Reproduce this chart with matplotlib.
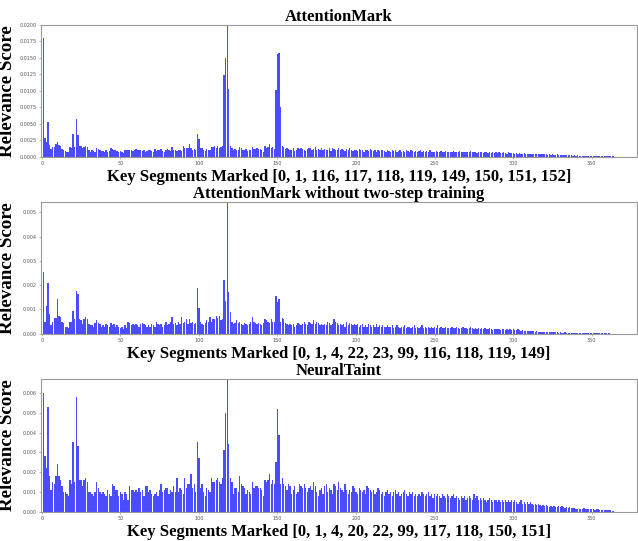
import numpy as np
import matplotlib
matplotlib.use("Agg")
import matplotlib.pyplot as plt

# ---------------------------------------------------------------
# Relevance scores per segment (units of 1e-4)
# ---------------------------------------------------------------
attention_mark = np.array([
    127, 180, 28, 22, 53, 18, 12, 15, 15, 19,
    23, 18, 16, 12, 10, 9, 8, 7, 15, 14,
    35, 15, 58, 33, 17, 16, 13, 15, 17, 15,
    10, 8, 10, 9, 7, 14, 12, 10, 9, 9,
    8, 10, 8, 9, 13, 12, 10, 10, 9, 7,
    9, 8, 6, 11, 10, 11, 10, 11, 9, 10,
    12, 11, 10, 11, 9, 10, 8, 9, 10, 11,
    9, 8, 12, 9, 10, 11, 12, 9, 8, 10,
    12, 10, 9, 15, 11, 10, 9, 11, 10, 9,
    16, 13, 14, 14, 19, 13, 10, 12, 11, 35,
    27, 13, 14, 11, 9, 12, 11, 10, 15, 15,
    16, 14, 17, 14, 15, 17, 124, 150, 200, 103,
    16, 13, 10, 12, 11, 10, 15, 13, 11, 10,
    12, 9, 11, 10, 15, 12, 12, 13, 12, 12,
    11, 8, 16, 14, 15, 19, 14, 15, 12, 102,
    156, 158, 75, 17, 15, 12, 14, 12, 10, 11,
    13, 9, 11, 13, 12, 13, 12, 11, 9, 12,
    14, 13, 10, 12, 15, 11, 12, 10, 13, 11,
    12, 10, 11, 13, 9, 14, 12, 10, 11, 13,
    10, 12, 11, 9, 12, 10, 13, 11, 9, 10,
    11, 9, 12, 10, 10, 8, 11, 10, 9, 12,
    10, 9, 11, 8, 10, 9, 10, 11, 9, 8,
    10, 9, 8, 10, 9, 11, 8, 9, 10, 8,
    9, 8, 10, 9, 8, 11, 9, 8, 9, 7,
    9, 10, 8, 9, 7, 9, 8, 10, 8, 7,
    8, 9, 7, 8, 9, 8, 7, 9, 8, 7,
    8, 7, 9, 8, 7, 8, 9, 7, 8, 7,
    7, 8, 7, 9, 7, 8, 7, 6, 8, 7,
    7, 6, 8, 7, 6, 7, 6, 7, 6, 7,
    6, 7, 6, 6, 7, 6, 5, 7, 6, 6,
    6, 5, 6, 5, 6, 5, 5, 6, 5, 5,
    5, 4, 5, 4, 5, 4, 4, 5, 4, 4,
    4, 4, 3, 4, 3, 4, 3, 3, 4, 3,
    3, 3, 3, 2.5, 3, 2.5, 3, 2.5, 2, 2.5,
    2, 2.5, 2, 2, 2, 1.8, 2, 1.6, 1.8, 1.5,
    1.5, 1.6, 1.4, 1.5, 1.3, 1.4, 1.2, 1.3, 1.1, 1.2,
    1.1, 1, 1, 0.9, 0.8,
]) * 1e-4

no_two_step = np.array([
    32, 25.5, 5, 11.5, 21, 8, 3.5, 5, 6.5, 6.5,
    14.5, 7.5, 7, 5, 4.5, 3, 3, 2.5, 5, 5,
    9.5, 6, 17.5, 16.5, 6, 5.5, 4, 6, 7, 6,
    4, 3.5, 3.5, 3, 4.5, 5.5, 4.5, 4, 3, 3.5,
    3, 4, 3.5, 3, 4.5, 3.5, 4, 3, 3.5, 3,
    2.5, 3, 2, 3.5, 2.5, 5, 4.5, 3.5, 4, 3.5,
    4, 3.5, 3, 4, 4.5, 4, 3.5, 3, 3.5, 3,
    4, 3.5, 3, 5, 4, 3.5, 4, 3, 3.5, 5,
    3.5, 4, 5, 7, 4, 4.5, 3.5, 5, 4, 7,
    4.5, 5, 6, 4, 6, 4.5, 5, 4, 4.5, 19,
    10.5, 5, 4, 3.5, 4.5, 5.5, 5, 7, 5, 6,
    6, 7.5, 6.5, 7.5, 5.5, 6, 22, 13.5, 54.3, 17,
    9, 5, 4, 4.5, 5.5, 4.5, 5, 4, 3.5, 4.5,
    4, 3.5, 4, 5, 7, 5, 4.5, 4, 4.5, 4,
    3.5, 4.5, 6, 5.5, 5, 4.5, 6, 5, 5, 15.5,
    13, 14.5, 5, 6.5, 6, 4.5, 4, 3.5, 4, 3.5,
    4, 3, 3.5, 4.5, 4, 3.5, 4, 5, 4, 3.5,
    5, 4.5, 4, 5.5, 4, 5, 4.5, 3.5, 4, 3.5,
    4, 3.5, 5, 4.5, 3.5, 4, 6, 5, 4.5, 3.5,
    4, 3.5, 4, 3, 5, 3.5, 4.5, 4, 3.5, 4,
    3.5, 4, 3, 3.5, 4, 3, 3.5, 3, 4, 3.5,
    3, 3.5, 3, 4, 3, 3.5, 3, 3.5, 3, 3,
    3.5, 3, 3, 3.5, 2.5, 3, 3.5, 3, 2.5, 3,
    3, 3.5, 2.5, 3, 3, 2.5, 3, 3.5, 2.5, 3,
    2.5, 3, 3.5, 2.5, 3, 2.5, 3, 2.5, 3, 2.5,
    3, 2.5, 3.5, 2.5, 3, 2.5, 2.5, 3, 2.5, 2.5,
    2.5, 3, 2.5, 2.5, 3, 2.5, 2, 2.5, 3, 2.5,
    2.5, 2, 2.5, 3, 2.5, 2, 2.5, 2, 2.5, 2,
    2.5, 2, 2.5, 2, 2, 2.5, 2, 1.5, 2, 2,
    2, 2, 1.5, 2, 2, 1.5, 2, 1.5, 2, 1.5,
    2, 1.5, 1.5, 2, 1.5, 1.2, 1.5, 1.2, 1.3, 1.2,
    1.2, 1, 1.1, 1, 0.9, 1, 0.8, 0.9, 0.8, 0.8,
    0.8, 0.7, 0.8, 0.7, 0.6, 0.7, 0.6, 0.6, 0.6, 0.5,
    0.6, 0.5, 0.5, 0.6, 0.5, 0.4, 0.5, 0.4, 0.4, 0.4,
    0.4, 0.3, 0.4, 0.3, 0.3, 0.3, 0.3, 0.25, 0.3, 0.25,
    0.2, 0.25, 0.2, 0.2, 0.2, 0.15, 0.2, 0.15, 0.15, 0.15,
    0.1, 0.15, 0.1, 0.1, 0.1,
]) * 1e-4

neural_taint = np.array([
    42, 60, 28, 22, 53, 18, 11, 15, 14, 18,
    24, 18, 16, 13, 10, 10, 9, 8, 16, 14,
    35, 15, 58, 33, 16, 16, 13, 16, 17, 15,
    10, 10, 9, 8, 10, 15, 12, 10, 9, 10,
    9, 8, 11, 9, 8, 14, 13, 11, 11, 8,
    10, 9, 6, 10, 9, 6, 13, 11, 11, 10,
    11, 10, 12, 10, 11, 8, 13, 13, 10, 11,
    9, 8, 9, 10, 8, 11, 14, 10, 11, 12,
    12, 9, 11, 10, 13, 10, 17, 10, 12, 11,
    9, 17, 12, 14, 14, 19, 12, 14, 10, 35,
    27, 12, 14, 10, 8, 12, 11, 10, 17, 15,
    15, 16, 17, 15, 14, 17, 31, 50, 67.2, 34,
    17, 15, 9, 12, 12, 10, 18, 14, 13, 12,
    9, 11, 10, 9, 15, 12, 13, 13, 12, 12,
    11, 8, 16, 15, 16, 19, 14, 16, 14, 25,
    52, 39, 14, 17, 14, 13, 11, 14, 13, 9,
    11, 13, 9, 10, 14, 13, 12, 14, 12, 10,
    12, 13, 11, 15, 13, 10, 8, 11, 12, 9,
    13, 14, 10, 12, 11, 9, 14, 13, 11, 15,
    12, 11, 10, 14, 11, 9, 11, 10, 13, 12,
    10, 9, 12, 11, 10, 11, 9, 13, 12, 11,
    10, 11, 9, 10, 12, 11, 9, 10, 8, 10,
    11, 9, 10, 8, 10, 11, 9, 10, 8, 9,
    10, 11, 9, 8, 10, 9, 10, 8, 9, 8,
    9, 8, 10, 9, 8, 9, 10, 8, 9, 7,
    9, 8, 9, 8, 7, 9, 8, 7, 9, 8,
    7, 8, 9, 7, 8, 7, 6, 8, 7, 8,
    6, 7, 8, 7, 6, 9, 7, 8, 6, 7,
    6, 7, 6, 5, 6, 7, 6, 5, 6, 6,
    5, 6, 5, 6, 5, 6, 5, 6, 5, 6,
    5, 6, 5, 4, 5, 6, 4, 5, 4, 5,
    4, 5, 4, 3.5, 4, 3.5, 4, 3.5, 3, 3.5,
    3, 3.5, 3, 2.5, 3, 2.5, 3, 2.5, 2.5, 3,
    2.5, 3, 2.5, 2, 2.5, 2, 2.5, 2, 2, 1.8,
    1.5, 1.5, 1.6, 1.4, 1.5, 1.8, 1.4, 1.3, 1.5, 1.2,
    1.2, 1.3, 1.1, 1.2, 1.4, 1.1, 1, 1.1, 0.9, 1,
    0.8, 0.9, 0.7, 0.6, 0.5,
]) * 1e-4

titles = ["AttentionMark",
          "AttentionMark without two-step training",
          "NeuralTaint"]
marked = [[0, 1, 116, 117, 118, 119, 149, 150, 151, 152],
          [0, 1, 4, 22, 23, 99, 116, 118, 119, 149],
          [0, 1, 4, 20, 22, 99, 117, 118, 150, 151]]
series = [attention_mark, no_two_step, neural_taint]
ytick_fmt = ["%.4f", "%.3f", "%.3f"]

# -------------------------------------------------------
# Figure: three stacked bar panels
# -------------------------------------------------------
fig = plt.figure(figsize=(6.38, 5.41), dpi=100)

boxes = [(0.064, 0.710, 0.935, 0.244),
         (0.064, 0.383, 0.935, 0.244),
         (0.064, 0.054, 0.935, 0.246)]

serif = "Liberation Serif"

for box, title, seg, vals, fmt in zip(boxes, titles, marked, series, ytick_fmt):
    ax = fig.add_axes(box)
    x = np.arange(len(vals))
    ax.bar(x, vals, width=0.9, color="blue", alpha=0.7, linewidth=0)

    ax.set_xlim(-0.6, 379)
    ax.set_ylim(0, vals.max())
    ax.set_xticks(np.arange(0, 351, 50))
    ax.yaxis.set_major_formatter(matplotlib.ticker.FormatStrFormatter(fmt))

    ax.tick_params(labelsize=3.5, labelcolor="#555555", length=1.5,
                   width=0.4, color="#888888", pad=1.5)
    for s in ax.spines.values():
        s.set_color("#999999")
        s.set_linewidth(0.8)

    ax.set_title(title, fontfamily=serif, fontweight="bold",
                 fontsize=12, pad=3)
    ax.set_xlabel("Key Segments Marked [" + ", ".join(str(v) for v in seg) + "]",
                  fontfamily=serif, fontweight="bold", fontsize=12, labelpad=2)
    ax.set_ylabel("Relevance Score", fontfamily=serif, fontweight="bold",
                  fontsize=13.7)
    ax.yaxis.set_label_coords(-0.041, 0.5)

    leg = ax.legend(handles=[], loc="upper right", frameon=True,
                    borderpad=0.2, fontsize=3)
    leg.get_frame().set_linewidth(0.4)

fig.savefig("out.png", dpi=100)
